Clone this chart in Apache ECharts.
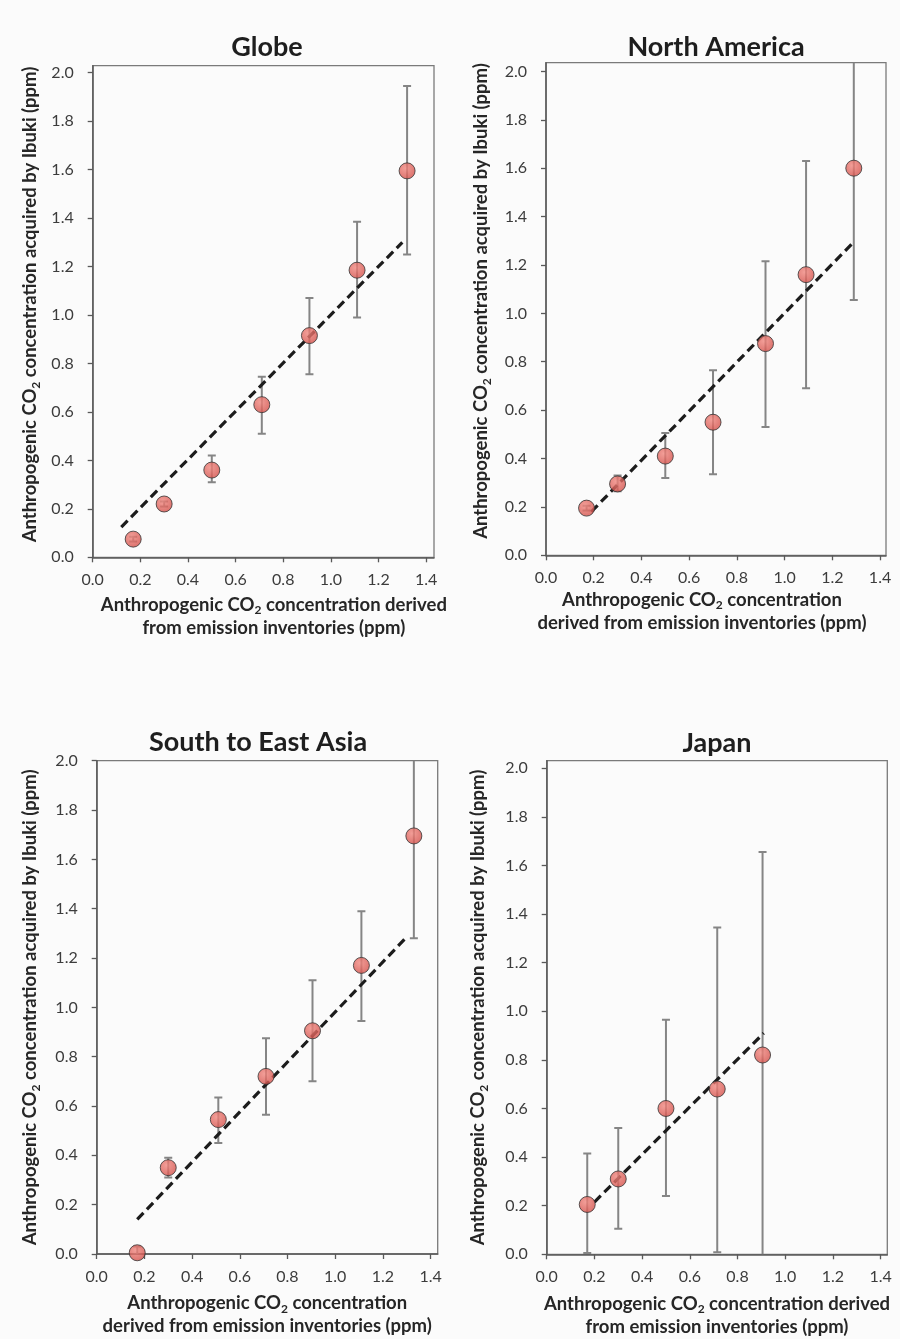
<!DOCTYPE html>
<html>
<head>
<meta charset="utf-8">
<script src="https://cdn.jsdelivr.net/npm/echarts@6/dist/echarts.min.js"></script>
<style>
  html, body { margin: 0; padding: 0; background: #fbfbfb; }
  #chart { width: 900px; height: 1339px; }
</style>
</head>
<body>
<div id="chart"></div>
<script>
// Tick positions shared by all four panels
const xTicks = [0, 0.2, 0.4, 0.6, 0.8, 1.0, 1.2, 1.4];
const yTicks = [0, 0.2, 0.4, 0.6, 0.8, 1.0, 1.2, 1.4, 1.6, 1.8, 2.0];

const panelTitles = ['Globe', 'North America', 'South to East Asia', 'Japan'];

// Globe
const globeX    = [0.17, 0.30, 0.50, 0.71, 0.91, 1.11, 1.32];
const globeY    = [0.075, 0.22, 0.36, 0.63, 0.915, 1.185, 1.595];
const globeLow  = [0.065, 0.21, 0.31, 0.51, 0.755, 0.99, 1.25];
const globeHigh = [0.085, 0.23, 0.42, 0.745, 1.07, 1.385, 1.945];
const globeFit  = [[0.12, 0.125], [1.30, 1.30]];

// North America
const naX    = [0.17, 0.30, 0.50, 0.70, 0.92, 1.09, 1.29];
const naY    = [0.195, 0.295, 0.41, 0.55, 0.875, 1.16, 1.60];
const naLow  = [0.185, 0.265, 0.32, 0.335, 0.53, 0.69, 1.055];
const naHigh = [0.205, 0.33, 0.505, 0.765, 1.215, 1.63, 2.1];
const naFit  = [[0.19, 0.18], [1.29, 1.295]];

// South to East Asia
const seaX    = [0.17, 0.30, 0.51, 0.71, 0.905, 1.11, 1.33];
const seaY    = [0.005, 0.35, 0.545, 0.72, 0.905, 1.17, 1.695];
const seaLow  = [-0.05, 0.31, 0.45, 0.565, 0.70, 0.945, 1.28];
const seaHigh = [0.03, 0.39, 0.635, 0.875, 1.11, 1.39, 2.1];
const seaFit  = [[0.17, 0.14], [1.295, 1.28]];

// Japan
const jpX    = [0.17, 0.30, 0.50, 0.715, 0.905];
const jpY    = [0.205, 0.31, 0.60, 0.68, 0.82];
const jpLow  = [0.005, 0.105, 0.24, 0.008, -0.05];
const jpHigh = [0.415, 0.52, 0.965, 1.345, 1.655];
const jpFit  = [[0.20, 0.215], [0.91, 0.91]];

const panels = [
  { x: globeX, y: globeY, lo: globeLow, hi: globeHigh, fit: globeFit },
  { x: naX, y: naY, lo: naLow, hi: naHigh, fit: naFit },
  { x: seaX, y: seaY, lo: seaLow, hi: seaHigh, fit: seaFit },
  { x: jpX, y: jpY, lo: jpLow, hi: jpHigh, fit: jpFit }
];

// Panel layout
const layout = [
  { left: 92.7, top: 65.7, width: 341.3, height: 491.6, xMax: 1.433, yMax: 2.029,
    titleX: 267, titleY: 47,
    xName: 'long', xPad: [0, 0, 0, 21], xGap: 36, yGap: 51, yPad: [0, 0, 0, 14] },
  { left: 546, top: 62.7, width: 340, height: 492.6, xMax: 1.425, yMax: 2.036,
    titleX: 716, titleY: 47,
    xName: 'short', xPad: [0, 28, 0, 0], xGap: 33, yGap: 53, yPad: [0, 0, 0, 16] },
  { left: 96.7, top: 760.7, width: 341, height: 493.3, xMax: 1.43, yMax: 2.0,
    titleX: 258, titleY: 742,
    xName: 'short', xPad: [0, 0, 0, 0], xGap: 38, yGap: 55, yPad: [0, 0, 0, 0] },
  { left: 546.7, top: 760.7, width: 340.6, height: 493.6, xMax: 1.428, yMax: 2.031,
    titleX: 717, titleY: 743,
    xName: 'long', xPad: [0, 0, 0, 0], xGap: 38, yGap: 57, yPad: [0, 0, 0, 0] }
];

const FONT = 'Lato, "Open Sans", sans-serif';
const nameRich = {
  b: { fontFamily: FONT, fontWeight: 'bold', fontSize: 18.5, color: '#262626', lineHeight: 23 },
  s: { fontFamily: FONT, fontWeight: 'bold', fontSize: 12, color: '#262626', lineHeight: 13, verticalAlign: 'bottom' }
};
const xNames = {
  long: '{b|Anthropogenic CO}{s|2}{b| concentration derived}\n{b|from emission inventories (ppm)}',
  short: '{b|Anthropogenic CO}{s|2}{b| concentration}\n{b|derived from emission inventories (ppm)}'
};
const yName = '{b|Anthropogenic CO}{s|2}{b| concentration acquired by Ibuki (ppm)}';

const axisColor = '#595959';
const labelStyle = { fontFamily: FONT, fontSize: 16, color: '#3c3c3c' };

const grids = [], xAxes = [], yAxes = [], titles = [], series = [];

layout.forEach((L, i) => {
  grids.push({
    left: L.left, top: L.top, width: L.width, height: L.height,
    show: true, borderColor: '#7a7a7a', borderWidth: 1.3, backgroundColor: 'transparent',
    outerBoundsMode: 'none'
  });
  titles.push({
    text: panelTitles[i], left: L.titleX, top: L.titleY,
    textAlign: 'center', textVerticalAlign: 'middle', padding: 0,
    textStyle: { fontFamily: FONT, fontWeight: 'bold', fontSize: 27, color: '#1e1e1e' }
  });
  xAxes.push({
    type: 'value', gridIndex: i, min: 0, max: L.xMax,
    splitLine: { show: false },
    axisLine: { show: true, onZero: false, lineStyle: { color: axisColor, width: 1.5 } },
    axisTick: { show: true, length: 5, customValues: xTicks, lineStyle: { color: axisColor, width: 1.3 } },
    axisLabel: Object.assign({ margin: 15, customValues: xTicks, formatter: v => v.toFixed(1) }, labelStyle),
    name: xNames[L.xName], nameLocation: 'middle', nameGap: L.xGap,
    nameTextStyle: { rich: nameRich, padding: L.xPad, align: 'center' }
  });
  yAxes.push({
    type: 'value', gridIndex: i, min: 0, max: L.yMax,
    splitLine: { show: false },
    axisLine: { show: true, onZero: false, lineStyle: { color: axisColor, width: 1.5 } },
    axisTick: { show: true, length: 5, customValues: yTicks, lineStyle: { color: axisColor, width: 1.3 } },
    axisLabel: Object.assign({ margin: 19, customValues: yTicks, formatter: v => v.toFixed(1) }, labelStyle),
    name: yName, nameLocation: 'middle', nameGap: L.yGap,
    nameTextStyle: { rich: nameRich, padding: L.yPad }
  });

  const P = panels[i];
  // vertical error bars with end caps
  series.push({
    type: 'custom', xAxisIndex: i, yAxisIndex: i, clip: true, z: 2,
    data: P.x.map((x, k) => [x, P.lo[k], P.hi[k]]),
    renderItem: (params, api) => {
      const a = api.coord([api.value(0), api.value(1)]);
      const b = api.coord([api.value(0), api.value(2)]);
      const st = { stroke: '#858585', lineWidth: 2 };
      return {
        type: 'group',
        children: [
          { type: 'line', shape: { x1: a[0], y1: a[1], x2: b[0], y2: b[1] }, style: st },
          { type: 'line', shape: { x1: a[0] - 4, y1: a[1], x2: a[0] + 4, y2: a[1] }, style: st },
          { type: 'line', shape: { x1: b[0] - 4, y1: b[1], x2: b[0] + 4, y2: b[1] }, style: st }
        ]
      };
    }
  });
  // dashed 1:1 fit line
  series.push({
    type: 'line', xAxisIndex: i, yAxisIndex: i, z: 3,
    data: P.fit, symbol: 'none', silent: true,
    lineStyle: { color: '#1c1c1c', width: 3.2, type: [9, 5] }
  });
  // observation markers
  series.push({
    type: 'scatter', xAxisIndex: i, yAxisIndex: i, z: 4,
    data: P.x.map((x, k) => [x, P.y[k]]),
    symbol: 'circle', symbolSize: 16,
    itemStyle: {
      color: {
        type: 'radial', x: 0.4, y: 0.35, r: 0.7,
        colorStops: [
          { offset: 0, color: '#f0877f' },
          { offset: 1, color: '#d24c46' }
        ]
      },
      borderColor: '#333333', borderWidth: 1
    }
  });
});

const chart = echarts.init(document.getElementById('chart'), null, { renderer: 'canvas' });
chart.setOption({
  backgroundColor: '#fbfbfb',
  animation: false,
  title: titles,
  grid: grids,
  xAxis: xAxes,
  yAxis: yAxes,
  series: series
});
</script>
</body>
</html>
